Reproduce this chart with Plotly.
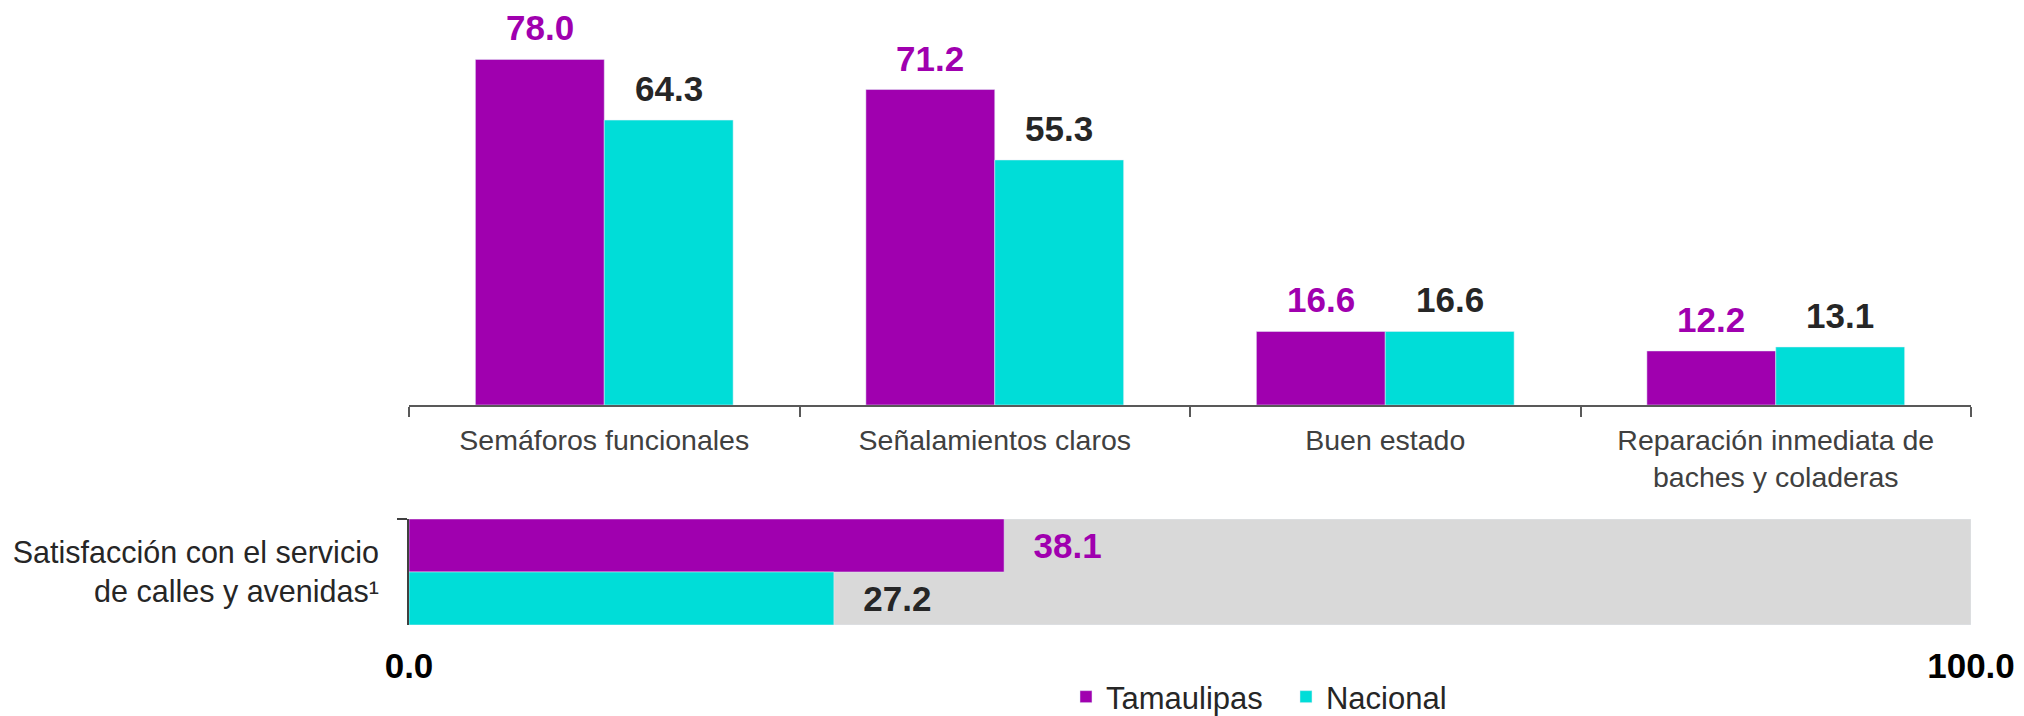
import plotly.graph_objects as go
from plotly.subplots import make_subplots

# ----------------------------------------------------------------------------------------------------------------------
# DATA
# ----------------------------------------------------------------------------------------------------------------------
categories = ['Semáforos funcionales', 'Señalamientos claros', 'Buen estado',
              'Reparación inmediata de<br>baches y coladeras']
tamaulipas = [78.0, 71.2, 16.6, 12.2]
nacional = [64.3, 55.3, 16.6, 13.1]

sat_label = ['Satisfacción con el servicio<br>de calles y avenidas¹']
sat_tamaulipas = [38.1]
sat_nacional = [27.2]
sat_total = [100.0]

x_ticks = [0, 100]

purple = '#A000AF'
cyan = '#00DDD8'
grey = '#D9D9D9'
dark = '#262626'
font = 'Liberation Sans, Arial, sans-serif'

# page body adds 8px on the left, so the figure is 8px narrower than the window
W, H = 2016, 716
ML, MR = 401, 53
BARGAP = 0.34
plot_w = W - ML - MR
bar_w = plot_w / len(categories) * (1 - BARGAP) / 2

# ----------------------------------------------------------------------------------------------------------------------
# FIGURE
# ----------------------------------------------------------------------------------------------------------------------
fig = make_subplots(rows=2, cols=1)

# top: attributes by category
fig.add_trace(go.Bar(x=categories, y=tamaulipas, name='Tamaulipas', marker_color=purple), row=1, col=1)
fig.add_trace(go.Bar(x=categories, y=nacional, name='Nacional', marker_color=cyan), row=1, col=1)

for cat, v1, v2 in zip(categories, tamaulipas, nacional):
        fig.add_annotation(x=cat, y=v1, xref='x', yref='y', text=f'{v1:.1f}', showarrow=False,
                           yanchor='bottom', yshift=10, xshift=-bar_w / 2,
                           font=dict(family=font, size=35, color=purple, weight='bold'))
        fig.add_annotation(x=cat, y=v2, xref='x', yref='y', text=f'{v2:.1f}', showarrow=False,
                           yanchor='bottom', yshift=10, xshift=bar_w / 2,
                           font=dict(family=font, size=35, color=dark, weight='bold'))

# bottom: satisfaction, grey bar = 100 behind
fig.add_trace(go.Bar(
        y=sat_label, x=sat_total, orientation='h', marker_color=grey,
        width=1.0, offset=-0.5, showlegend=False), row=2, col=1)
fig.add_trace(go.Bar(
        y=sat_label, x=sat_tamaulipas, orientation='h', marker_color=purple,
        width=0.5, offset=0.0, showlegend=False,
        texttemplate='\u2009  %{x:.1f}', textposition='outside',
        textfont=dict(family=font, size=35, color=purple, weight='bold'),
        cliponaxis=False), row=2, col=1)
fig.add_trace(go.Bar(
        y=sat_label, x=sat_nacional, orientation='h', marker_color=cyan,
        width=0.5, offset=-0.5, showlegend=False,
        texttemplate='\u2009  %{x:.1f}', textposition='outside',
        textfont=dict(family=font, size=35, color=dark, weight='bold'),
        cliponaxis=False), row=2, col=1)

fig.update_layout(
        width=W, height=H,
        margin=dict(l=ML, r=MR, t=0, b=0),
        plot_bgcolor='white', paper_bgcolor='white',
        barmode='group', bargap=BARGAP, bargroupgap=0,
        hovermode=False,
        font=dict(family=font, size=28, color='#404040'),
        legend=dict(orientation='h', x=0.4206, xanchor='left', y=0, yanchor='bottom',
                    font=dict(size=31, color='#262626'), itemwidth=30, traceorder='normal',
                    entrywidth=175, entrywidthmode='pixels'),
        xaxis=dict(domain=[0, 1], showline=True, linecolor='#595959', linewidth=2,
                   ticks='outside', tickson='boundaries', ticklen=10, tickcolor='#595959',
                   tickwidth=2, showgrid=False, ticklabelstandoff=9,
                   tickfont=dict(size=28.5, color='#404040')),
        yaxis=dict(domain=[0.4455, 1.0], range=[0, 89.6], visible=False),
        xaxis2=dict(domain=[0, 1], range=[0, 100], tickvals=x_ticks, tickformat='.1f',
                    showline=False, showgrid=False, zeroline=False, ticks='',
                    ticklabelstandoff=17,
                    tickfont=dict(size=35, color='black', weight='bold')),
        yaxis2=dict(domain=[0.1383, 0.2863], range=[-0.5, 0.5], showline=True,
                    linecolor='#404040', linewidth=2, ticks='outside', tickson='boundaries',
                    ticklen=10, tickcolor='#404040', tickwidth=2, showgrid=False,
                    ticklabelstandoff=22, tickfont=dict(size=30.5, color='#262626')),
        )

fig.write_html('out.html')
